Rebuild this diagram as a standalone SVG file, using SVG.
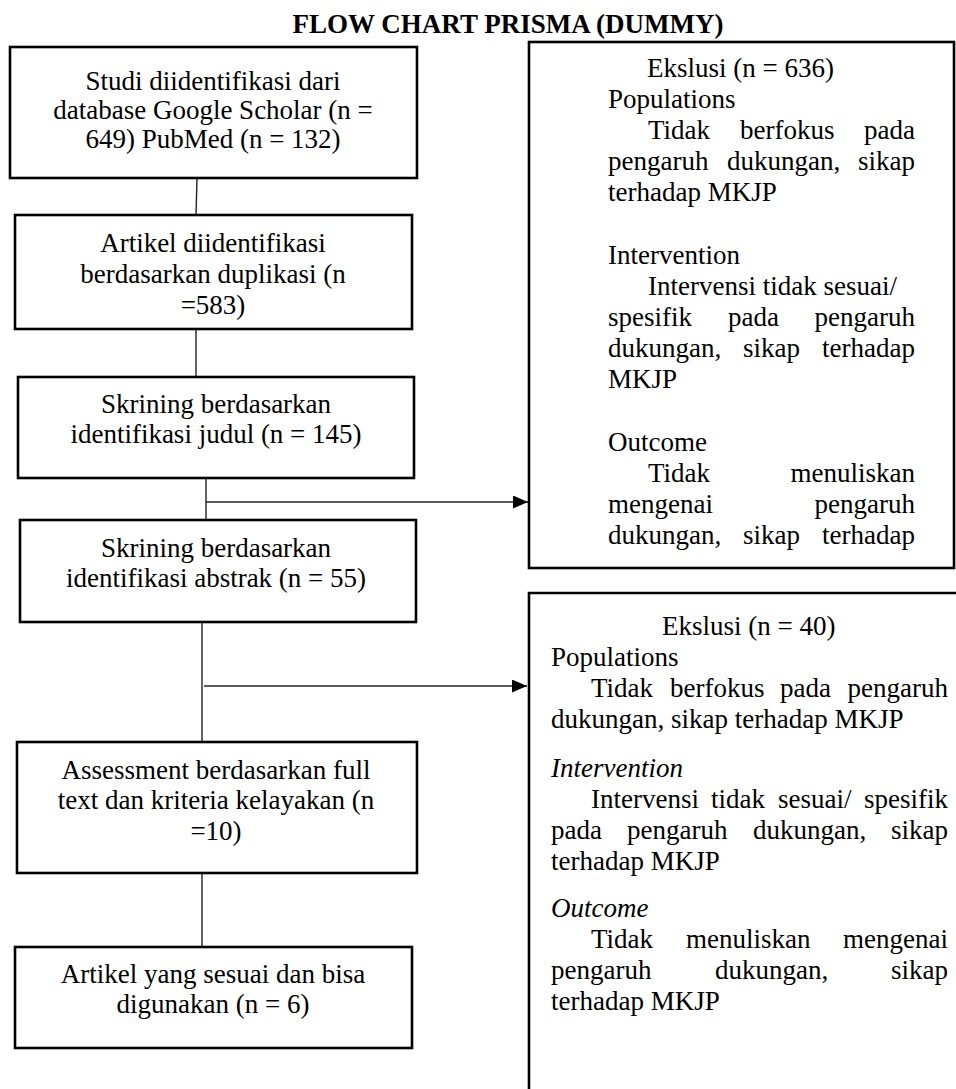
<svg xmlns="http://www.w3.org/2000/svg" width="956" height="1089" viewBox="0 0 956 1089">
<style>
text{font-family:"Liberation Serif","Times New Roman",serif;font-size:27px;fill:#000}
.c{text-anchor:middle}
.e{text-anchor:end}
.i{font-style:italic}
.t{font-weight:bold}
.box{fill:#fff;stroke:#000;stroke-width:2.6}
.ln{fill:none;stroke:#222;stroke-width:1.4}
</style>
<defs>
<marker id="ah" markerUnits="userSpaceOnUse" markerWidth="16" markerHeight="14" refX="15" refY="6.5" orient="auto">
<path d="M0,0 L15,6.5 L0,13 z" fill="#000"/>
</marker>
</defs>
<rect width="956" height="1089" fill="#fff"/>
<text class="t c" x="508" y="33">FLOW CHART PRISMA (DUMMY)</text>

<g id="connectors">
<path class="ln" d="M197,178 L196,215"/>
<path class="ln" d="M196,329 L196,377"/>
<path class="ln" d="M206,478 L206,520"/>
<path class="ln" d="M206,502 H528" marker-end="url(#ah)"/>
<path class="ln" d="M202,622 L202,742"/>
<path class="ln" d="M204,686 H527" marker-end="url(#ah)"/>
<path class="ln" d="M202,873 L202,947"/>
</g>

<g id="n1">
<rect class="box" x="10" y="47" width="407" height="131"/>
<text class="c" x="213" y="90">Studi diidentifikasi dari</text>
<text class="c" x="213" y="119">database Google Scholar (n =</text>
<text class="c" x="213" y="148">649) PubMed (n = 132)</text>
</g>

<g id="n2">
<rect class="box" x="15" y="215" width="397" height="114"/>
<text class="c" x="213" y="252">Artikel diidentifikasi</text>
<text class="c" x="213" y="283">berdasarkan duplikasi (n</text>
<text class="c" x="213" y="314">=583)</text>
</g>

<g id="n3">
<rect class="box" x="18" y="377" width="396" height="101"/>
<text class="c" x="216" y="413">Skrining berdasarkan</text>
<text class="c" x="216" y="443">identifikasi judul (n = 145)</text>
</g>

<g id="n4">
<rect class="box" x="20" y="520" width="396" height="102"/>
<text class="c" x="216" y="557">Skrining berdasarkan</text>
<text class="c" x="216" y="587">identifikasi abstrak (n = 55)</text>
</g>

<g id="n5">
<rect class="box" x="17" y="742" width="400" height="131"/>
<text class="c" x="216" y="779">Assessment berdasarkan full</text>
<text class="c" x="216" y="809">text dan kriteria kelayakan (n</text>
<text class="c" x="216" y="840">=10)</text>
</g>

<g id="n6">
<rect class="box" x="15" y="947" width="397" height="101"/>
<text class="c" x="213" y="983">Artikel yang sesuai dan bisa</text>
<text class="c" x="213" y="1013">digunakan (n = 6)</text>
</g>

<g id="excl1">
<rect class="box" x="529" y="42" width="425" height="526"/>
<text x="647" y="77">Ekslusi (n = 636)</text>
<text x="608" y="108">Populations</text>
<text y="139"><tspan x="648">Tidak</tspan><tspan x="740">berfokus</tspan></text>
<text class="e" x="915" y="139">pada</text>
<text y="170"><tspan x="608">pengaruh</tspan><tspan x="727">dukungan,</tspan></text>
<text class="e" x="915" y="170">sikap</text>
<text x="608" y="201">terhadap MKJP</text>
<text x="608" y="264">Intervention</text>
<text x="648" y="295">Intervensi tidak sesuai/</text>
<text y="326"><tspan x="608">spesifik</tspan><tspan x="728">pada</tspan></text>
<text class="e" x="915" y="326">pengaruh</text>
<text y="357"><tspan x="608">dukungan,</tspan><tspan x="743">sikap</tspan></text>
<text class="e" x="915" y="357">terhadap</text>
<text x="608" y="388">MKJP</text>
<text x="608" y="451">Outcome</text>
<text x="648" y="482">Tidak</text>
<text class="e" x="915" y="482">menuliskan</text>
<text x="608" y="513">mengenai</text>
<text class="e" x="915" y="513">pengaruh</text>
<text y="544"><tspan x="608">dukungan,</tspan><tspan x="743">sikap</tspan></text>
<text class="e" x="915" y="544">terhadap</text>
</g>

<g id="excl2">
<path class="box" d="M958,593 H529 V1091"/>
<text x="662" y="635">Ekslusi (n = 40)</text>
<text x="551" y="666">Populations</text>
<text y="697"><tspan x="591">Tidak</tspan><tspan x="670">berfokus</tspan><tspan x="780">pada</tspan></text>
<text class="e" x="948" y="697">pengaruh</text>
<text x="551" y="728">dukungan, sikap terhadap MKJP</text>
<text class="i" x="551" y="777">Intervention</text>
<text y="808"><tspan x="591">Intervensi</tspan><tspan x="711">tidak</tspan><tspan x="778">sesuai/</tspan></text>
<text class="e" x="948" y="808">spesifik</text>
<text y="839"><tspan x="551">pada</tspan><tspan x="627">pengaruh</tspan><tspan x="753">dukungan,</tspan></text>
<text class="e" x="948" y="839">sikap</text>
<text x="551" y="870">terhadap MKJP</text>
<text class="i" x="551" y="917">Outcome</text>
<text y="948"><tspan x="591">Tidak</tspan><tspan x="686">menuliskan</tspan></text>
<text class="e" x="948" y="948">mengenai</text>
<text y="979"><tspan x="551">pengaruh</tspan><tspan x="715">dukungan,</tspan></text>
<text class="e" x="948" y="979">sikap</text>
<text x="551" y="1010">terhadap MKJP</text>
</g>
</svg>
